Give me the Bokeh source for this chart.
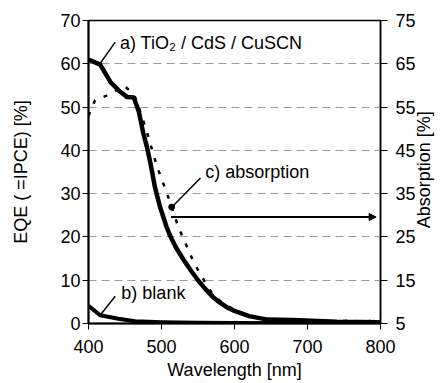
import math
from bokeh.plotting import figure
from bokeh.models import (Range1d, LinearAxis, FixedTicker, Arrow, NormalHead)
from bokeh.core.properties import value
from bokeh.embed import file_html
from bokeh.resources import INLINE

FONT = "Liberation Sans"
FS = "18px"

# ---- data ----
eqe_wl = [400, 416, 430, 441, 453, 462, 469, 475, 480, 485, 491, 498, 507, 512, 520, 530,
          540, 550, 560, 570, 580, 590, 600, 620, 645, 680, 740, 800]
eqe_val = [61.0, 59.8, 55.8, 53.9, 52.3, 52.2, 48.9, 44.0, 40.8, 36.9, 31.5, 26.9, 22.3, 20.2,
           17.5, 14.8, 12.3, 10.0, 8.0, 6.2, 4.8, 3.7, 2.9, 1.7, 0.9, 0.8, 0.4, 0.3]

blank_wl = [400, 416, 441, 464, 500, 550, 600, 700, 800]
blank_val = [4.1, 1.9, 1.1, 0.5, 0.3, 0.15, 0.1, 0.05, 0.0]

abs_wl = [400, 409, 432, 448, 462, 471, 480, 487, 494, 505, 514, 523, 533, 544, 558, 570,
          585, 600, 620, 640, 660, 700, 740, 763, 770, 780, 790, 800]
abs_val = [53.0, 56.6, 58.1, 60.0, 58.1, 53.9, 49.2, 45.2, 41.2, 36.2, 31.9, 27.3, 23.5, 19.2,
           15.0, 11.8, 9.5, 8.2, 6.8, 6.1, 5.8, 5.6, 5.4, 5.8, 5.4, 5.8, 5.4, 5.3]
abs_marker_index = 10

x_ticks = [400, 500, 600, 700, 800]
left_ticks = [0, 10, 20, 30, 40, 50, 60, 70]
right_ticks = [5, 15, 25, 35, 45, 55, 65, 75]

# annotation anchors (data coords, left axis)
label_a = "a) TiO\u2082 / CdS / CuSCN"
label_b = "b) blank"
label_c = "c) absorption"
ptr_x0 = [416, 416, 514.4]
ptr_y0 = [60.1, 1.9, 26.9]
ptr_x1 = [436.6, 436.6, 553.4]
ptr_y1 = [65.0, 6.3, 33.6]
txt_x = [443, 445, 560]
txt_y = [64.7, 7.0, 35.0]
arrow_x = [513, 794]
arrow_y = [24.6, 24.6]
right_title = "Absorption [%]"
right_title_pos = 27  # where the (rotated) right title starts, in absorption units

p = figure(width=448, height=383, output_backend="svg", toolbar_location=None,
           x_range=Range1d(400, 800), y_range=Range1d(0, 70),
           min_border_left=88, min_border_right=68, min_border_top=20, min_border_bottom=60)
p.extra_y_ranges = {"abs": Range1d(5, 75)}
p.background_fill_color = "white"
p.border_fill_color = "white"
p.outline_line_color = "black"
p.outline_line_width = 1.5

p.xgrid.visible = False
p.ygrid.ticker = FixedTicker(ticks=[10, 20, 30, 40, 50, 60])
p.ygrid.grid_line_color = "#9a9a9a"
p.ygrid.grid_line_dash = "8 5"
p.ygrid.grid_line_width = 1

xax = p.xaxis[0]
lax = p.yaxis[0]
rax = LinearAxis(y_range_name="abs", ticker=FixedTicker(ticks=right_ticks))
p.add_layout(rax, "right")

for ax in (xax, lax, rax):
    ax.major_label_text_font = FONT
    ax.major_label_text_font_size = FS
    ax.major_label_text_color = "black"
    ax.axis_label_text_font = FONT
    ax.axis_label_text_font_size = FS
    ax.axis_label_text_font_style = "normal"
    ax.axis_label_text_color = "black"
    ax.axis_line_color = "black"
    ax.axis_line_width = 2
    ax.major_tick_line_color = "black"
    ax.major_tick_in = 0
    ax.major_tick_out = 6
    ax.minor_tick_line_color = None

xax.ticker = FixedTicker(ticks=x_ticks)
xax.axis_label = "Wavelength [nm]"
xax.major_label_standoff = 10
xax.axis_label_standoff = 4
lax.ticker = FixedTicker(ticks=left_ticks)
lax.axis_label = "EQE ( =IPCE) [%]"
lax.major_label_standoff = 2
lax.axis_label_standoff = 26

rax.axis_line_width = 1.5
rax.major_tick_out = 7
rax.major_label_standoff = 8

# second, bare right axis whose single tick label is the rotated title
tax = LinearAxis(y_range_name="abs", ticker=FixedTicker(ticks=[right_title_pos]),
                 major_label_overrides={right_title_pos: right_title},
                 major_label_orientation=math.pi / 2)
tax.axis_line_color = None
tax.major_tick_line_color = None
tax.minor_tick_line_color = None
tax.major_tick_in = 0
tax.major_tick_out = 0
tax.major_label_standoff = 6
tax.major_label_text_font = FONT
tax.major_label_text_font_size = FS
tax.major_label_text_color = "black"
p.add_layout(tax, "right")

# absorption (dotted)
p.line(abs_wl, abs_val, y_range_name="abs", line_color="black", line_width=2.5,
       line_dash="4 9")
p.scatter([abs_wl[abs_marker_index]], [abs_val[abs_marker_index]], y_range_name="abs",
          size=6, color="black")

# EQE curves
p.line(eqe_wl, eqe_val, line_color="black", line_width=4.5, line_join="round")
p.line(blank_wl, blank_val, line_color="black", line_width=4, line_join="round")

# pointers
p.segment(ptr_x0, ptr_y0, ptr_x1, ptr_y1, line_color="black", line_width=1.5)
p.text(txt_x, txt_y, text=[label_a, label_b, label_c], text_font=value(FONT),
       text_font_size=FS, text_baseline="middle", text_align="left", text_color="black")
p.add_layout(Arrow(x_start=arrow_x[0], y_start=arrow_y[0], x_end=arrow_x[1], y_end=arrow_y[1],
                   line_width=2, line_color="black",
                   end=NormalHead(size=7, fill_color="black", line_color="black")))

open("out.html", "w").write(file_html(p, INLINE))
